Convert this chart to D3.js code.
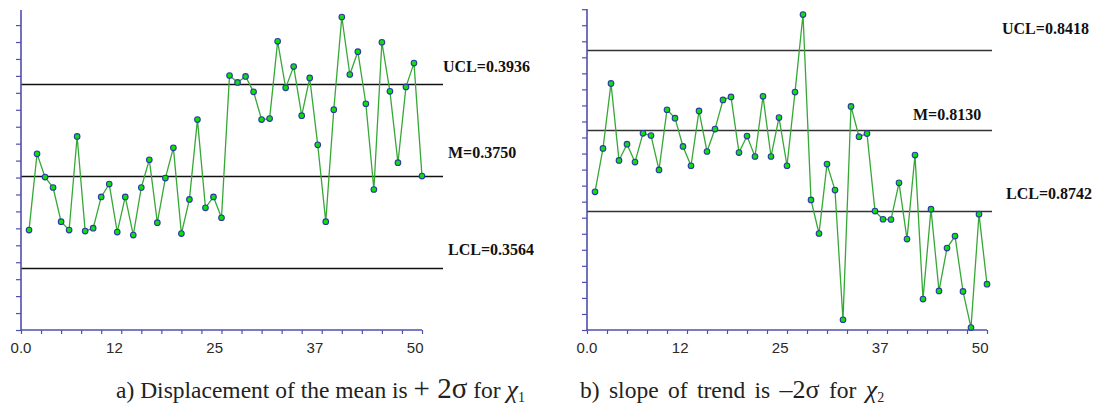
<!DOCTYPE html>
<html>
<head>
<meta charset="utf-8">
<script src="https://cdn.jsdelivr.net/npm/d3@7"></script>
<style>
  html, body { margin: 0; padding: 0; background: #fff; }
  svg { display: block; }
</style>
</head>
<body>
<div id="outer"></div>
<script>
////////// DATA //////////
const samples = d3.range(1, 51);

// chart a) displacement of the mean
const meanShift = [0.3641, 0.3795, 0.3748, 0.3727, 0.3658, 0.3641, 0.3830, 0.3639, 0.3645, 0.3708,
  0.3734, 0.3637, 0.3708, 0.3631, 0.3727, 0.3783, 0.3656, 0.3746, 0.3807, 0.3634,
  0.3703, 0.3864, 0.3686, 0.3708, 0.3666, 0.3953, 0.3939, 0.3951, 0.3920, 0.3864,
  0.3866, 0.4022, 0.3928, 0.3971, 0.3872, 0.3948, 0.3813, 0.3658, 0.3884, 0.4071,
  0.3955, 0.4001, 0.3896, 0.3723, 0.4020, 0.3921, 0.3777, 0.3930, 0.3978, 0.3750];
const limitsA = [0.3936, 0.3750, 0.3564];
const limitLabelsA = ['UCL=0.3936', 'M=0.3750', 'LCL=0.3564'];

// chart b) slope of trend
const trendShift = [0.7910, 0.8065, 0.8297, 0.8022, 0.8080, 0.8016, 0.8119, 0.8111, 0.7988, 0.8203,
  0.8173, 0.8072, 0.8003, 0.8199, 0.8054, 0.8134, 0.8238, 0.8249, 0.8050, 0.8109,
  0.8036, 0.8251, 0.8036, 0.8175, 0.8003, 0.8266, 0.8543, 0.7881, 0.7761, 0.8009,
  0.7916, 0.7453, 0.8215, 0.8107, 0.8118, 0.7841, 0.7812, 0.7811, 0.7942, 0.7741,
  0.8041, 0.7527, 0.7848, 0.7556, 0.7709, 0.7752, 0.7554, 0.7425, 0.7830, 0.7580];
const limitsB = [0.8418, 0.8130, 0.7842];
const limitLabelsB = ['UCL=0.8418', 'M=0.8130', 'LCL=0.8742'];

// x axis
const xTickLabels = ['0.0', '12', '25', '37', '50'];
const xLabelAt = [0, 12.5, 25, 37.5, 50];


////////// SETUP //////////
const W = 1097, H = 410;
const svg = d3.select('#outer').append('svg')
  .attr('width', W)
  .attr('height', H);
svg.append('rect').attr('width', W).attr('height', H).attr('fill', '#fff');

const axisColor = '#4f4fb0';
const lineColor = '#36a836';

function drawChart(cfg) {
  const g = svg.append('g');
  const x = d3.scaleLinear().domain([0, 50]).range([cfg.left, cfg.right]);
  const y = d3.scaleLinear().domain(cfg.yDomain).range([cfg.bottom, cfg.top]);

  // control lines
  g.selectAll('.limit').data(cfg.limits).enter().append('line')
    .attr('class', 'limit')
    .attr('x1', cfg.left).attr('x2', cfg.lineEnd)
    .attr('y1', d => Math.round(y(d)) + 0.5).attr('y2', d => Math.round(y(d)) + 0.5)
    .attr('stroke', cfg.limitColor)
    .attr('stroke-width', 1.4);

  g.selectAll('.limitLabel').data(cfg.labels).enter().append('text')
    .attr('class', 'limitLabel')
    .attr('x', (d, i) => cfg.labelPos[i][0])
    .attr('y', (d, i) => cfg.labelPos[i][1])
    .attr('font-family', '"Liberation Serif", "Times New Roman", serif')
    .attr('font-weight', 'bold')
    .attr('font-size', 16)
    .attr('fill', '#111')
    .text(d => d);

  // y axis
  const yTicks = d3.range(cfg.yTickCount + 1).map(i => y.invert(cfg.bottom - i * cfg.yTickStep));
  const yAxis = g.append('g')
    .attr('transform', `translate(${cfg.left},0)`)
    .call(d3.axisLeft(y).tickValues(yTicks).tickSize(5).tickFormat(''));
  yAxis.select('.domain').remove();
  yAxis.selectAll('line').attr('stroke', axisColor).attr('stroke-width', 1.2);
  g.append('line')
    .attr('x1', cfg.left).attr('x2', cfg.left)
    .attr('y1', cfg.axisTop).attr('y2', cfg.bottom)
    .attr('stroke', axisColor).attr('stroke-width', 1.6);

  // x axis
  const xAxis = g.append('g')
    .attr('transform', `translate(0,${cfg.bottom})`)
    .call(d3.axisBottom(x).tickValues(d3.range(0, 50.01, 2.5)).tickSize(4).tickFormat(''));
  xAxis.select('.domain').remove();
  xAxis.selectAll('line').attr('stroke', axisColor).attr('stroke-width', 1.2);
  g.append('line')
    .attr('x1', cfg.left).attr('x2', cfg.right)
    .attr('y1', cfg.bottom).attr('y2', cfg.bottom)
    .attr('stroke', axisColor).attr('stroke-width', 1.6);

  g.selectAll('.xLabel').data(xTickLabels).enter().append('text')
    .attr('class', 'xLabel')
    .attr('x', (d, i) => i === 0 ? x(xLabelAt[i]) : x(xLabelAt[i]) + 1.5)
    .attr('y', cfg.bottom + 23)
    .attr('text-anchor', (d, i) => i === 0 ? 'middle' : 'end')
    .attr('font-family', '"Liberation Sans", Arial, sans-serif')
    .attr('font-size', 15)
    .attr('fill', '#2a2a2a')
    .text(d => d);

  // series
  const line = d3.line().x((d, i) => x(samples[i])).y(d => y(d));
  g.append('path')
    .datum(cfg.values)
    .attr('d', line)
    .attr('fill', 'none')
    .attr('stroke', lineColor)
    .attr('stroke-width', 1.3);

  g.selectAll('.pt').data(cfg.values).enter().append('circle')
    .attr('class', 'pt')
    .attr('cx', (d, i) => x(samples[i]))
    .attr('cy', d => y(d))
    .attr('r', 2.8)
    .attr('fill', '#10dc10')
    .attr('stroke', '#2b3aa8')
    .attr('stroke-width', 1.1);
}

drawChart({
  values: meanShift,
  limits: limitsA,
  labels: limitLabelsA,
  labelPos: [[443, 72], [448, 158], [448, 255]],
  left: 21, right: 422, lineEnd: 443,
  top: 10, bottom: 330, axisTop: 10,
  yDomain: [0.34395, 0.40851],
  yTickCount: 18, yTickStep: 16.94,
  limitColor: '#111'
});

drawChart({
  values: trendShift,
  limits: limitsB,
  labels: limitLabelsB,
  labelPos: [[1002, 34], [913, 120], [1006, 199]],
  left: 587, right: 987, lineEnd: 992,
  top: 9.3, bottom: 330, axisTop: 9,
  yDomain: [0.74164, 0.85618],
  yTickCount: 20, yTickStep: 16.04,
  limitColor: '#333'
});

// CAPTIONS //
const serif = '"Liberation Serif", "Times New Roman", serif';
const capA = svg.append('text')
  .attr('x', 116).attr('y', 398)
  .attr('font-family', serif).attr('font-size', 23.5).attr('fill', '#222');
capA.append('tspan').text('a) Displacement of the mean is ');
capA.append('tspan').attr('font-size', 29).text('+ 2σ');
capA.append('tspan').text(' for ');
capA.append('tspan').attr('font-style', 'italic').attr('font-size', 26).text('χ');
capA.append('tspan').attr('font-size', 14).attr('dy', 4).text('1');

const capB = svg.append('text')
  .attr('x', 580).attr('y', 398)
  .attr('font-family', serif).attr('font-size', 23.5).attr('fill', '#222')
  .attr('word-spacing', 3.5);
capB.append('tspan').text('b) slope of trend is ');
capB.append('tspan').attr('font-size', 26).text('–2σ');
capB.append('tspan').text(' for ');
capB.append('tspan').attr('font-style', 'italic').attr('font-size', 26).text('χ');
capB.append('tspan').attr('font-size', 14).attr('dy', 4).text('2');
</script>
</body>
</html>
